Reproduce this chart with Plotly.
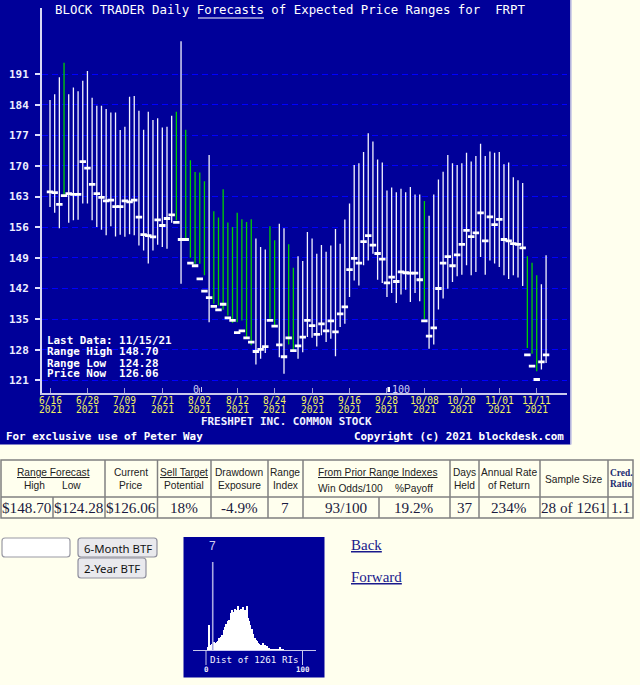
import plotly.graph_objects as go

# forecast ranges, one row per trading day
highs = [185.05, 186.4, 190.3, 193.6, 186.4, 187.95, 187.1, 189.5, 191.7, 185.6,
         183.75, 183.75, 183.0, 182.2, 182.2, 178.2, 178.95, 185.8, 186.0, 182.6,
         178.3, 182.4, 180.5, 180.9, 178.8, 178.95, 181.5, 182.4, 198.5, 178.3,
         171.3, 168.6, 168.5, 166.5, 172.5, 159.65, 158.2, 164.7, 157.1, 156.05,
         159.3, 157.8, 157.2, 157.8, 153.4, 151.5, 150.9, 156.2, 153.0, 156.8,
         155.75, 152.1, 146.75, 149.35, 148.3, 154.9, 153.4, 149.95, 151.95, 150.4,
         151.8, 155.6, 152.2, 157.75, 161.4, 170.2, 170.6, 173.2, 177.5, 175.6,
         171.5, 170.8, 164.4, 165.1, 164.0, 164.8, 164.0, 165.2, 163.5, 163.5,
         162.0, 158.6, 163.5, 166.9, 168.7, 172.5, 170.6, 170.2, 170.6, 173.0,
         171.0, 172.3, 175.1, 172.3, 173.3, 173.0, 173.2, 170.4, 170.8, 167.4,
         166.75, 166.1, 149.35, 147.9, 145.0, 142.95, 149.6]
lows = [160.6, 159.3, 155.75, 163.2, 157.0, 157.6, 157.7, 161.4, 161.4, 157.6,
        156.06, 155.4, 154.15, 156.2, 153.9, 154.3, 153.8, 154.4, 154.15, 151.8,
        150.7, 147.7, 150.7, 152.0, 151.5, 151.1, 157.0, 157.6, 143.1, 153.2,
        149.05, 147.67, 147.67, 145.0, 134.3, 138.5, 138.1, 137.15, 135.85, 134.1,
        134.3, 134.7, 130.9, 129.0, 124.65, 125.95, 127.25, 135.1, 133.2, 126.3,
        122.5, 129.2, 127.7, 125.95, 127.45, 130.9, 130.75, 128.75, 131.3, 129.75,
        130.5, 126.5, 133.2, 133.95, 140.05, 143.85, 142.7, 147.3, 148.4, 149.95,
        144.0, 143.25, 140.05, 140.95, 138.67, 140.65, 141.7, 138.9, 140.95, 139.1,
        135.0, 128.2, 129.2, 137.2, 139.74, 141.95, 143.5, 144.8, 145.15, 147.3,
        145.0, 145.75, 149.2, 145.15, 148.4, 147.7, 146.9, 145.0, 144.15, 145.0,
        144.5, 142.55, 128.4, 127.1, 123.1, 123.5, 124.95]
prices = [164.1, 163.9, 161.2, 163.2, 163.7, 163.5, 163.5, 171.0, 169.5, 165.8,
          163.7, 162.8, 162.0, 162.2, 160.7, 160.7, 162.0, 161.8, 162.2, 158.3,
          154.3, 154.1, 153.8, 157.7, 156.4, 158.0, 158.8, 157.1, 153.2, 153.2,
          147.8, 147.2, 144.2, 141.4, 139.9, 137.9, 137.1, 138.4, 135.3, 134.7,
          131.9, 132.3, 130.7, 129.75, 127.6, 128.1, 128.7, 134.7, 133.4, 129.1,
          126.4, 130.7, 127.8, 128.9, 130.9, 134.7, 133.5, 131.5, 133.9, 132.3,
          134.6, 132.1, 136.2, 137.8, 146.3, 148.9, 147.8, 152.7, 154.1, 151.9,
          150.0, 148.7, 143.3, 144.6, 143.6, 145.8, 145.6, 145.5, 145.5, 144.0,
          134.6, 131.1, 133.0, 142.0, 147.8, 149.3, 147.2, 149.7, 152.1, 155.3,
          153.85, 154.7, 159.3, 152.9, 158.35, 156.6, 157.8, 153.2, 152.9, 152.25,
          152.1, 151.3, 126.85, 124.25, 121.2, 125.25, 126.85]
green_days = [3, 27, 29, 30, 31, 32, 33, 35, 36, 37, 38, 39, 40, 41, 42, 43, 47, 48, 51, 52, 80, 102, 103, 104]

price_ticks = [121, 128, 135, 142, 149, 156, 163, 170, 177, 184, 191]
date_ticks = [0, 8, 16, 24, 32, 40, 48, 56, 64, 72, 80, 88, 96, 104]
date_labels = ["6/16", "6/28", "7/09", "7/21", "8/02", "8/12", "8/24", "9/03", "9/16", "9/28", "10/08", "10/20", "11/01", "11/11"]
year_labels = ["2021"] * 14

# range index histogram (counts per index value, 0 to 100)
ri_counts = [0, 0, 4, 31, 6, 5, 8, 3, 10, 8, 9, 10, 12, 15, 12, 17, 19, 18, 25, 29,
             33, 27, 36, 31, 38, 37, 47, 50, 42, 48, 52, 44, 50, 55, 42, 50, 52, 44, 54, 42,
             50, 46, 55, 40, 36, 31, 27, 27, 20, 18, 13, 15, 13, 12, 9, 8, 7, 6, 5, 9,
             4, 6, 3, 5, 3, 3, 2, 2, 2, 2, 2, 2, 2, 2, 2, 2, 2, 4, 1, 1,
             1, 0, 0, 0, 0, 0, 0, 0, 0, 0, 0, 0, 0, 0, 0, 0, 0, 0, 0, 0, 0]
range_index = 7
ri_line_top = 110

WIDTH, HEIGHT = 640, 685
CREAM = "#FFFFEE"
NAVY = "#000099"
MONO = "DejaVu Sans Mono"
SANS = "Liberation Sans"
SERIF = "Liberation Serif"


def fx(x):
    return x / WIDTH


def fy(y):
    return 1 - y / HEIGHT


def segments(days):
    xs, ys = [], []
    for d in days:
        xs += [d, d, None]
        ys += [lows[d], highs[d], None]
    return xs, ys


all_days = list(range(len(highs)))
white_days = [d for d in all_days if d not in green_days]

fig = go.Figure()
wx, wy = segments(white_days)
gx, gy = segments(green_days)
fig.add_trace(go.Scatter(x=wx, y=wy, mode="lines", line=dict(color="#f4f4ff", width=1.3), hoverinfo="skip"))
fig.add_trace(go.Scatter(x=gx, y=gy, mode="lines", line=dict(color="#00d000", width=1.3), hoverinfo="skip"))
fig.add_trace(go.Scatter(x=all_days, y=prices, mode="markers", hoverinfo="skip",
                         marker=dict(symbol="line-ew", size=4.6, color="white", line=dict(color="white", width=2.8))))

# little histogram
fig.add_trace(go.Bar(x=list(range(len(ri_counts))), y=ri_counts, width=1, xaxis="x2", yaxis="y2",
                     marker=dict(color="white", line=dict(width=0)), hoverinfo="skip"))
fig.add_trace(go.Scatter(x=[range_index, range_index], y=[0, ri_line_top], mode="lines", xaxis="x2", yaxis="y2",
                         line=dict(color="#a8a8e0", width=1.6), hoverinfo="skip"))

shapes = [
    # blue panels
    dict(type="rect", xref="paper", yref="paper", x0=0, x1=fx(570.5), y0=fy(444.5), y1=1,
         fillcolor=NAVY, line=dict(width=0), layer="below"),
    dict(type="line", xref="paper", yref="paper", x0=fx(571), x1=fx(571), y0=fy(444.5), y1=1,
         line=dict(color="#c4c4e4", width=1.5), layer="below"),
    dict(type="rect", xref="paper", yref="paper", x0=fx(183.5), x1=fx(324.5), y0=fy(677.5), y1=fy(537),
         fillcolor=NAVY, line=dict(width=0), layer="below"),
    # keeps the grid off the info text
    dict(type="rect", xref="x", yref="y", x0=-1.5, x1=27.4, y0=119.5, y1=131,
         fillcolor=NAVY, line=dict(width=0), layer="below"),
    # underline under Forecasts
    dict(type="line", xref="paper", yref="paper", x0=fx(198), x1=fx(264), y0=fy(18), y1=fy(18),
         line=dict(color="white", width=1.2)),
    # index marks along the bottom
    dict(type="line", xref="paper", yref="paper", x0=fx(201.5), x1=fx(201.5), y0=fy(392), y1=fy(387),
         line=dict(color="#d0d0f0", width=1)),
    dict(type="rect", xref="paper", yref="paper", x0=fx(387.5), x1=fx(390), y0=fy(392), y1=fy(387),
         fillcolor="white", line=dict(width=0)),
    # brackets under the histogram
    dict(type="line", xref="paper", yref="paper", x0=fx(206), x1=fx(206), y0=fy(650), y1=fy(665),
         line=dict(color="#c8c8ec", width=1)),
    dict(type="line", xref="paper", yref="paper", x0=fx(302.5), x1=fx(302.5), y0=fy(650), y1=fy(665),
         line=dict(color="#c8c8ec", width=1)),
]


def text(s, x, y, size, font=MONO, color="white", anchor="center", bold=False):
    if bold:
        s = "<b>" + s + "</b>"
    return dict(text=s, xref="paper", yref="paper", x=fx(x), y=fy(y), xanchor=anchor, yanchor="middle",
                showarrow=False, align=anchor, font=dict(family=font, size=size, color=color))


notes = [
    text("BLOCK TRADER Daily Forecasts of Expected Price Ranges for  FRPT".replace(" ", "\u00a0"), 53, 9, 12.4, anchor="left"),
    text("FRESHPET INC. COMMON STOCK", 286, 421, 10.9, bold=True, color="#f0f0ff"),
    text("For\u00a0exclusive\u00a0use\u00a0of\u00a0Peter\u00a0Way", 4, 436, 10.9, anchor="left", bold=True),
    text("Copyright\u00a0(c)\u00a02021\u00a0blockdesk.com", 566, 436, 10.9, anchor="right", bold=True),
    text("Last\u00a0Data:\u00a011/15/21", 45, 340, 10.9, anchor="left", bold=True),
    text("Range\u00a0High\u00a0148.70", 45, 351.5, 10.9, anchor="left", bold=True),
    text("Range\u00a0Low\u00a0\u00a0124.28", 45, 363, 10.9, anchor="left", bold=True),
    text("Price\u00a0Now\u00a0\u00a0126.06", 45, 374, 10.9, anchor="left", bold=True),
    text("0", 196, 389, 10, color="#d0d0f0"),
    text("100", 401, 389, 10, color="#d0d0f0"),
    text("7", 212, 546, 12, font=SANS, color="#d0d0f0"),
    text("Dist\u00a0of\u00a01261\u00a0RIs", 254, 659, 9.2, color="#f0f0ff"),
    text("0", 206, 669, 7.5, color="#f0f0ff", bold=True),
    text("100", 303, 669, 7.5, color="#f0f0ff", bold=True),
]

# date labels under the axis, two rows
for d, lab, yr in zip(date_ticks, date_labels, year_labels):
    for s, row_y in ((lab, 400.5), (yr, 409.5)):
        notes.append(dict(text=s, xref="x", yref="paper", x=d, y=fy(row_y), xanchor="center", yanchor="middle",
                          showarrow=False, font=dict(family=MONO, size=9.6, color="#f0f060")))

# stats table
BORDER = "#808080"
row_top, row_mid, row_bot = 460, 497, 518
col_all = [1, 105, 157.5, 211, 268, 303, 450, 479, 540, 608, 633]
shapes.append(dict(type="rect", xref="paper", yref="paper", x0=fx(1), x1=fx(633), y0=fy(row_bot), y1=fy(row_top),
                   line=dict(color=BORDER, width=1.5)))
shapes.append(dict(type="line", xref="paper", yref="paper", x0=fx(1), x1=fx(633), y0=fy(row_mid), y1=fy(row_mid),
                   line=dict(color=BORDER, width=1.5)))
for c in col_all[1:-1]:
    shapes.append(dict(type="line", xref="paper", yref="paper", x0=fx(c), x1=fx(c), y0=fy(row_bot), y1=fy(row_top),
                       line=dict(color=BORDER, width=1.5)))
for c in (53, 379):
    shapes.append(dict(type="line", xref="paper", yref="paper", x0=fx(c), x1=fx(c), y0=fy(row_bot), y1=fy(row_mid),
                       line=dict(color=BORDER, width=1.5)))

HEAD = "#222222"
VAL = "#1a1a40"
head_cells = [
    ("<u>Range Forecast</u>", 53, 472), ("High", 34, 485), ("Low", 71, 485),
    ("Current", 131, 472), ("Price", 131, 485),
    ("<u>Sell Target</u>", 184, 472), ("Potential", 184, 485),
    ("Drawdown", 239, 472), ("Exposure", 239, 485),
    ("Range", 285, 472), ("Index", 285, 485),
    ("<u>From Prior Range Indexes</u>", 377, 472), ("Win Odds/100", 350, 488), ("%Payoff", 414, 488),
    ("Days", 464.5, 472), ("Held", 464.5, 485),
    ("Annual Rate", 509, 472), ("of Return", 509, 485),
    ("Sample Size", 574, 479),
]
for s, x, y in head_cells:
    notes.append(text(s, x, y, 10.2, font=SANS, color=HEAD))
notes.append(text("Cred.", 620.5, 473, 9.4, font=SERIF, color="#1a2a70", bold=True))
notes.append(text("Ratio", 620.5, 484, 9.4, font=SERIF, color="#1a2a70", bold=True))
val_cells = [
    ("$148.70", 27), ("$124.28", 79), ("$126.06", 131), ("18%", 184), ("-4.9%", 239), ("7", 285),
    ("93/100", 346), ("19.2%", 414), ("37", 464.5), ("234%", 509), ("28 of 1261", 574), ("1.1", 620.5),
]
for s, x in val_cells:
    notes.append(text(s, x, 507.5, 15.2, font=SERIF, color=VAL))


# form controls at the bottom left
def round_box(x0, y0, x1, y1, fill, edge, r=3):
    path = (f"M {fx(x0 + r)} {fy(y0)} L {fx(x1 - r)} {fy(y0)} Q {fx(x1)} {fy(y0)} {fx(x1)} {fy(y0 + r)} "
            f"L {fx(x1)} {fy(y1 - r)} Q {fx(x1)} {fy(y1)} {fx(x1 - r)} {fy(y1)} "
            f"L {fx(x0 + r)} {fy(y1)} Q {fx(x0)} {fy(y1)} {fx(x0)} {fy(y1 - r)} "
            f"L {fx(x0)} {fy(y0 + r)} Q {fx(x0)} {fy(y0)} {fx(x0 + r)} {fy(y0)} Z")
    return dict(type="path", xref="paper", yref="paper", path=path, fillcolor=fill, line=dict(color=edge, width=1.2))


shapes.append(round_box(2, 538, 70, 557, "white", "#9a9aa4"))
shapes.append(round_box(78, 538, 157, 557, "#E9E9ED", "#8f8f9d"))
shapes.append(round_box(78, 558, 146, 578, "#E9E9ED", "#8f8f9d"))
notes.append(text("6-Month BTF", 117.5, 548, 11.4, font="Noto Sans", color="#111111"))
notes.append(text("2-Year BTF", 112, 568, 11.4, font="Noto Sans", color="#111111"))
notes.append(text("<u>Back</u>", 349, 545, 15, font=SERIF, color="#1a1a8c", anchor="left"))
notes.append(text("<u>Forward</u>", 349, 577, 15, font=SERIF, color="#1a1a8c", anchor="left"))

fig.update_layout(
    width=WIDTH, height=HEIGHT, margin=dict(l=0, r=0, t=0, b=0), autosize=False,
    paper_bgcolor=CREAM, plot_bgcolor="rgba(0,0,0,0)", showlegend=False, bargap=0,
    shapes=shapes, annotations=notes,
    xaxis=dict(domain=[fx(42), fx(567)], range=[-1.71, 110.47], showgrid=False, zeroline=False,
               tickmode="array", tickvals=date_ticks, showticklabels=False, ticks="inside", ticklen=5, tickwidth=1,
               tickcolor="#9a9ad0", showline=True, linecolor="#c8c8ec", linewidth=2),
    yaxis=dict(domain=[fy(392.5), fy(8)], range=[118.23, 206.1], zeroline=False,
               tickmode="array", tickvals=price_ticks, ticks="outside", ticklen=5, tickwidth=2, tickcolor="#e0e0ff",
               showline=True, linecolor="#d8d8f4", linewidth=2, ticklabelstandoff=4,
               showgrid=True, gridcolor="#0000ff", gridwidth=1, griddash="6px,4px",
               tickfont=dict(family=MONO, size=11, color="#eeeeff", weight="bold")),
    xaxis2=dict(domain=[fx(192.7), fx(315.7)], range=[-13.8, 113.9], anchor="y2", showgrid=False, zeroline=False,
                showticklabels=False, ticks="", showline=True, linecolor="#c8c8ec", linewidth=1),
    yaxis2=dict(domain=[fy(650.3), fy(560)], range=[0, 112.5], anchor="x2", visible=False),
)

# drop the browser's default page margin so the figure sits at 0,0
fig.write_html("out.html", config={"displayModeBar": False},
               post_script="document.body.style.margin='0';document.body.style.background='#FFFFEE';")
